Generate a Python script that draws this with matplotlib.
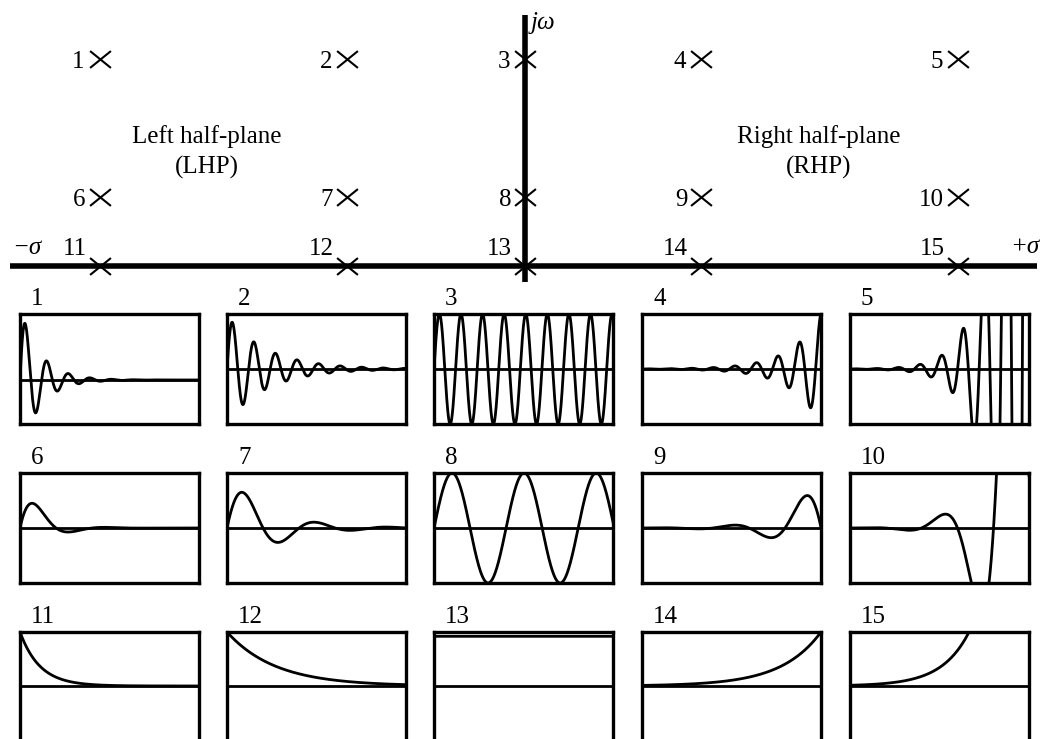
import numpy as np
import matplotlib
matplotlib.use('Agg')
import matplotlib.pyplot as plt
from matplotlib.path import Path

plt.rcParams['font.family'] = ['Liberation Serif', 'DejaVu Serif']

# ---------------- data ----------------
pole_labels = [str(i) for i in range(1, 16)]
# pole positions in the s-plane (sigma, omega), arbitrary units
pole_sigma = [-2.39, -1.0, 0.0, 0.99, 2.43] * 3
pole_omega = [3.0] * 5 + [1.0] * 5 + [0.0] * 5

# impulse-response parameters per panel
resp_sigma = [-0.9, -0.45, 0.0, 0.6, 0.9,
              -0.9, -0.45, 0.0, 0.6, 0.9,
              -0.9, -0.37, 0.0, 0.45, 0.65]
resp_omega = [5.21] * 5 + [1.56] * 5 + [0.0] * 5
resp_t0 = [0.0, 0.0, 0.0, 9.7, 6.01,
           0.0, 0.0, 0.0, 7.99, 3.99,
           0.0, 0.0, 0.0, 10.0, 6.65]
resp_amp = [1.11, 0.97, 1.0, 0.84, 0.557,
            0.95, 0.98, 1.0, 0.30, 0.087,
            1.0, 1.0, 0.92, 1.0, 1.0]
resp_ylim = [(-0.667, 1.0)] + [(-1.0, 1.0)] * 14
t_end = 10.0

# ---------------- figure ----------------
W, H = 1048, 739
fig = plt.figure(figsize=(W / 100, H / 100), dpi=100)

# s-plane overlay axes (origin at pixel (525, 266); 178 px per sigma unit, 69 px per omega unit)
ox, oy, sx, sy = 525, 266, 178.0, 69.0
ax0 = fig.add_axes([0, 0, 1, 1])
ax0.set_xlim((0 - ox) / sx, (W - ox) / sx)
ax0.set_ylim((oy - H) / sy, oy / sy)
ax0.axis('off')

axis_lw = 4.0
ax0.plot([(10 - ox) / sx, (1037 - ox) / sx], [0, 0], color='black', lw=axis_lw, solid_capstyle='butt')
ax0.plot([0, 0], [(oy - 282) / sy, (oy - 15) / sy], color='black', lw=axis_lw, solid_capstyle='butt')

xmark = Path([(-1, -0.81), (1, 0.81), (-1, 0.81), (1, -0.81)],
             [Path.MOVETO, Path.LINETO, Path.MOVETO, Path.LINETO])
ax0.plot(pole_sigma, pole_omega, linestyle='none', marker=xmark, markersize=15,
         markeredgewidth=1.5, color='black', markerfacecolor='none', zorder=5)

FS = 18
for lbl, s, w in zip(pole_labels, pole_sigma, pole_omega):
    if w == 3.0:
        off = (-15, -9)
    elif w == 1.0:
        off = (-14, -9)
    else:
        off = (-13, 11)
    ax0.annotate(lbl, (s, w), xytext=off, textcoords='offset pixels',
                 ha='right', va='baseline', fontsize=FS)

def ftext(x, y, s, **kw):
    fig.text(x / W, 1 - y / H, s, fontsize=FS, **kw)

ftext(207, 152, 'Left half-plane\n(LHP)', ha='center', va='center', multialignment='center', linespacing=1.42)
ftext(819, 152, 'Right half-plane\n(RHP)', ha='center', va='center', multialignment='center', linespacing=1.42)
ftext(531, 29, 'jω', ha='left', va='baseline', style='italic')
ftext(27, 248, '−σ', ha='center', va='center', style='italic')
ftext(1025, 247, '+σ', ha='center', va='center', style='italic')

# ---------------- response panels ----------------
lefts = [20, 227, 434, 642, 850]
box_w = 179
tops = [314, 473, 632]
heights = [110, 110, 108]

t = np.linspace(0, t_end, 6000)
for i in range(15):
    r, c = divmod(i, 5)
    l, tp, h = lefts[c], tops[r], heights[r]
    ax = fig.add_axes([l / W, 1 - (tp + h) / H, box_w / W, h / H])
    s, w, t0, a = resp_sigma[i], resp_omega[i], resp_t0[i], resp_amp[i]
    if w == 0:
        y = a * np.exp(s * (t - t0))
    else:
        y = a * np.exp(s * (t - t0)) * np.sin(w * (t - t0))
    ax.axhline(0, color='black', lw=2.0)
    ax.plot(t, y, color='black', lw=2.0)
    ax.set_xlim(0, t_end)
    ax.set_ylim(*resp_ylim[i])
    ax.set_xticks([])
    ax.set_yticks([])
    for sp in ax.spines.values():
        sp.set_linewidth(2.4)
    ftext(l + 11, tp - 9, pole_labels[i], ha='left', va='baseline')

fig.savefig('out.png', dpi=100)
